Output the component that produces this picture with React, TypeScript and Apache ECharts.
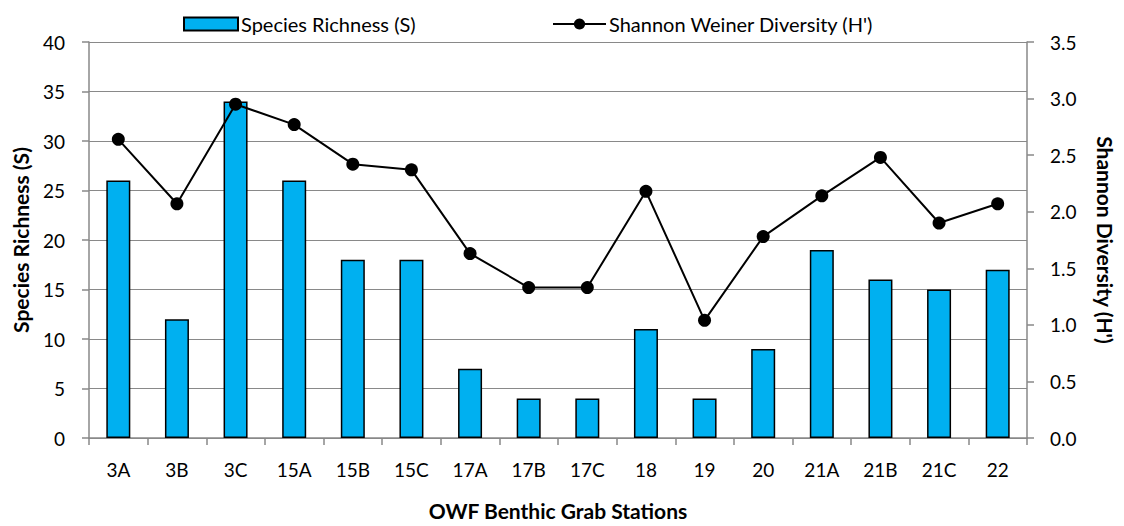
import React, { useEffect, useRef } from "react";
import * as echarts from "echarts";

const categories = ["3A", "3B", "3C", "15A", "15B", "15C", "17A", "17B", "17C", "18", "19", "20", "21A", "21B", "21C", "22"];
const richness = [26, 12, 34, 26, 18, 18, 7, 4, 4, 11, 4, 9, 19, 16, 15, 17];
const diversity = [2.64, 2.07, 2.95, 2.77, 2.42, 2.37, 1.63, 1.33, 1.33, 2.18, 1.04, 1.78, 2.14, 2.48, 1.9, 2.07];

const FONT = "Lato, 'Open Sans', sans-serif";
const GREY = "#898989";

export default function App() {
  const ref = useRef<HTMLDivElement>(null);
  useEffect(() => {
    const chart = echarts.init(ref.current!, null, { renderer: "svg" });
    chart.setOption({
      animation: false,
      textStyle: { fontFamily: FONT, color: "#000" },
      legend: [
        {
          data: [{ name: "Species Richness (S)", icon: "rect" }],
          left: 183,
          top: 14,
          padding: 0,
          itemWidth: 54,
          itemHeight: 13,
          textStyle: { fontSize: 20, fontFamily: FONT, color: "#000", padding: [0, 0, 0, -2] },
        },
        {
          data: ["Shannon Weiner Diversity (H')"],
          left: 552,
          top: 14,
          padding: 0,
          itemWidth: 53,
          itemHeight: 14,
          textStyle: { fontSize: 20, fontFamily: FONT, color: "#000", padding: [0, 0, 0, -2] },
        },
      ],
      grid: { left: 89, width: 947, top: 42, height: 408, containLabel: false },
      xAxis: {
        type: "category",
        data: categories,
        name: "OWF Benthic Grab Stations",
        nameLocation: "middle",
        nameGap: 62,
        nameTextStyle: { fontWeight: "bold", fontSize: 21, fontFamily: FONT, color: "#000" },
        axisLine: { lineStyle: { color: GREY, width: 1.5 } },
        axisTick: { show: true, length: 7, lineStyle: { color: GREY, width: 1.5 } },
        axisLabel: { fontSize: 19, color: "#000", margin: 22, fontFamily: FONT },
      },
      yAxis: [
        {
          type: "value",
          min: 0,
          max: 40,
          interval: 5,
          name: "Species Richness (S)",
          nameLocation: "middle",
          nameGap: 58,
          nameRotate: 90,
          nameTextStyle: { fontWeight: "bold", fontSize: 21, fontFamily: FONT, color: "#000" },
          axisLine: { show: true, lineStyle: { color: GREY, width: 1.5 } },
          axisTick: { show: true, length: 7, lineStyle: { color: GREY, width: 1.5 } },
          axisLabel: { fontSize: 19, color: "#000", margin: 24, fontFamily: FONT },
          splitLine: { show: true, lineStyle: { color: GREY, width: 1.2 } },
        },
        {
          type: "value",
          min: 0,
          max: 3.5,
          interval: 0.5,
          name: "Shannon Diversity (H')",
          nameLocation: "middle",
          nameGap: 68,
          nameRotate: -90,
          nameTextStyle: { fontWeight: "bold", fontSize: 21, fontFamily: FONT, color: "#000" },
          axisLine: { show: true, lineStyle: { color: GREY, width: 1.5 } },
          axisTick: { show: true, length: 7, lineStyle: { color: GREY, width: 1.5 } },
          axisLabel: { fontSize: 19, color: "#000", margin: 23, fontFamily: FONT, formatter: (v: number) => v.toFixed(1) },
          splitLine: { show: false },
        },
      ],
      series: [
        {
          name: "Species Richness (S)",
          type: "bar",
          data: richness,
          yAxisIndex: 0,
          barWidth: 24,
          itemStyle: { color: "#00B0F0", borderColor: "#000", borderWidth: 1.5 },
        },
        {
          name: "Shannon Weiner Diversity (H')",
          type: "line",
          data: diversity,
          yAxisIndex: 1,
          symbol: "circle",
          symbolSize: 13,
          lineStyle: { color: "#000", width: 2 },
          itemStyle: { color: "#000" },
        },
      ],
    });
    return () => chart.dispose();
  }, []);
  return <div ref={ref} style={{ width: 1124, height: 526, position: "absolute", left: 0, top: 0 }} />;
}
